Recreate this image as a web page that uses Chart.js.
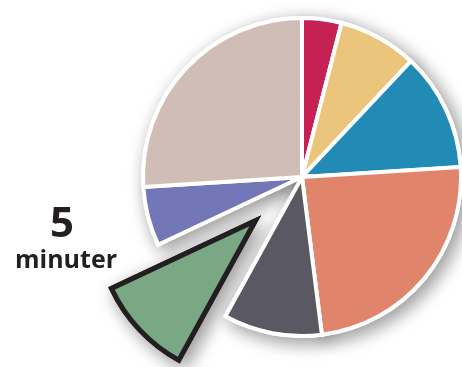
<!DOCTYPE html>
<html>
<head>
<meta charset="utf-8">
<script src="https://cdn.jsdelivr.net/npm/chart.js@4/dist/chart.umd.min.js"></script>
<style>
  html, body { margin: 0; padding: 0; background: #fff; }
  #wrap { width: 462px; height: 367px; position: relative; }
</style>
</head>
<body>
<div id="wrap"><canvas id="chart"></canvas></div>
<script>
// minutes per activity, clockwise from 12 o'clock
const activities = ['A', 'B', 'C', 'D', 'E', 'F', 'G', 'H'];
const minutes = [2, 4, 6, 12, 5, 5, 3, 13];
const sliceColors = ['#C62153', '#ECC57C', '#228BB5', '#E0856B', '#5A5862', '#7BA884', '#7377B8', '#D0BEB6'];
const unitLabel = 'minuter';

const highlight = 5;      // the slice pulled out of the pie
const pullOut = 64;       // px

// pushes the highlighted arc away from the centre
const explodePlugin = {
  id: 'explode',
  afterDatasetUpdate(chart) {
    const arc = chart.getDatasetMeta(0).data[highlight];
    const mid = (arc.startAngle + arc.endAngle) / 2;
    arc.x += Math.cos(mid) * pullOut;
    arc.y += Math.sin(mid) * pullOut;
  }
};

// soft drop shadow: draw every arc once with a shadow, the normal pass covers the inside
const shadowPlugin = {
  id: 'pieShadow',
  beforeDatasetsDraw(chart) {
    const ctx = chart.ctx;
    ctx.save();
    ctx.shadowColor = 'rgba(0, 0, 0, 0.4)';
    ctx.shadowBlur = 18;
    ctx.shadowOffsetX = 5;
    ctx.shadowOffsetY = 5;
    chart.getDatasetMeta(0).data.forEach((arc) => arc.draw(ctx));
    ctx.restore();
  }
};

// value callout left of the pulled-out slice
const calloutPlugin = {
  id: 'callout',
  afterDraw(chart) {
    const ctx = chart.ctx;
    ctx.save();
    ctx.fillStyle = '#231f20';
    ctx.textAlign = 'center';
    ctx.textBaseline = 'alphabetic';
    ctx.font = 'bold 42px "Open Sans"';
    ctx.fillText(String(minutes[highlight]), 62, 237);
    ctx.font = 'bold 25px "Open Sans"';
    ctx.fillText(unitLabel, 66, 268);
    ctx.restore();
  }
};

const borderColors = sliceColors.map((c, i) => (i === highlight ? '#231f20' : '#ffffff'));
const borderWidths = sliceColors.map((c, i) => (i === highlight ? 5 : 4));

new Chart(document.getElementById('chart'), {
  type: 'pie',
  data: {
    labels: activities,
    datasets: [{
      data: minutes,
      backgroundColor: sliceColors,
      borderColor: borderColors,
      borderWidth: borderWidths,
      borderJoinStyle: 'miter'
    }]
  },
  options: {
    responsive: true,
    maintainAspectRatio: false,
    animation: false,
    radius: 159,
    layout: { padding: { left: 142, right: 0, top: 0, bottom: 13 } },
    plugins: {
      legend: { display: false },
      tooltip: { enabled: false }
    }
  },
  plugins: [explodePlugin, shadowPlugin, calloutPlugin]
});
</script>
</body>
</html>
